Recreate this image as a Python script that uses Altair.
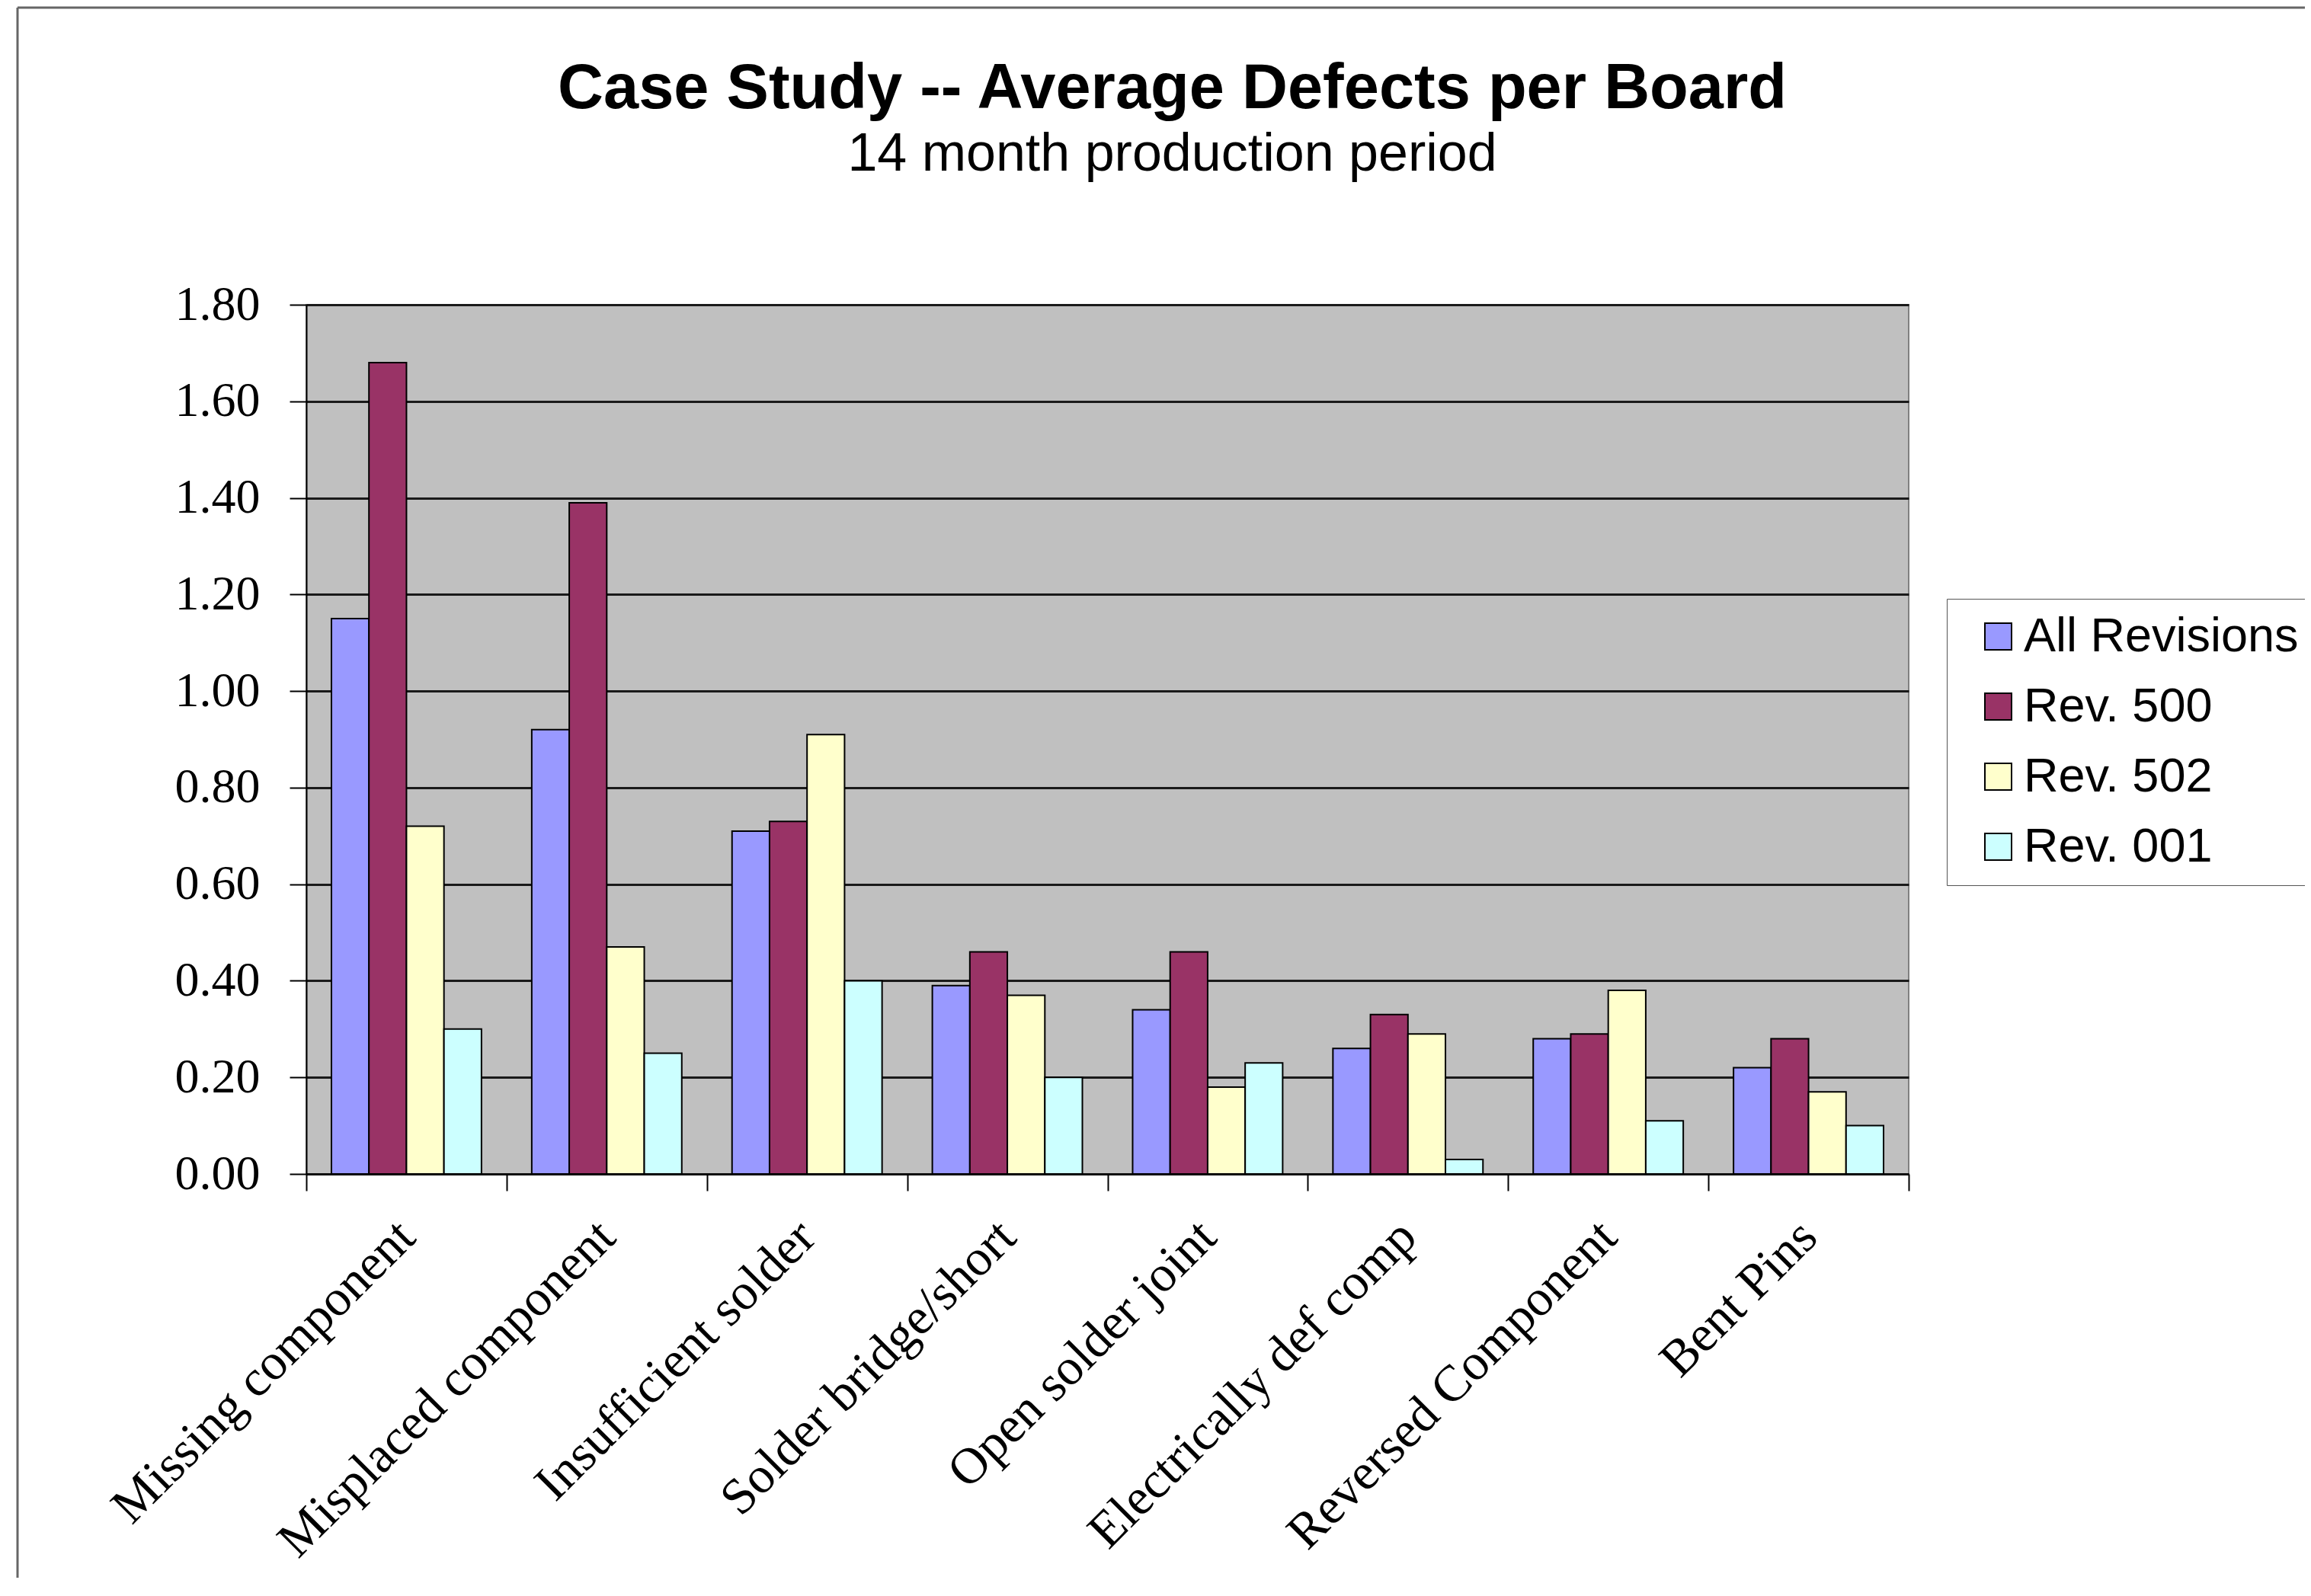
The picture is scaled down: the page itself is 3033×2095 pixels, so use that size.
import altair as alt
import pandas as pd

categories = ["Missing component", "Misplaced component", "Insufficient solder",
              "Solder bridge/short", "Open solder joint", "Electrically def comp",
              "Reversed Component", "Bent Pins"]
series = ["All Revisions", "Rev. 500", "Rev. 502", "Rev. 001"]
all_revisions = [1.15, 0.92, 0.71, 0.39, 0.34, 0.26, 0.28, 0.22]
rev_500 = [1.68, 1.39, 0.73, 0.46, 0.46, 0.33, 0.29, 0.28]
rev_502 = [0.72, 0.47, 0.91, 0.37, 0.18, 0.29, 0.38, 0.17]
rev_001 = [0.30, 0.25, 0.40, 0.20, 0.23, 0.03, 0.11, 0.10]
colors = ["#9999FF", "#993366", "#FFFFCC", "#CCFFFF"]
y_ticks = [0.0, 0.2, 0.4, 0.6, 0.8, 1.0, 1.2, 1.4, 1.6, 1.8]

rows = []
for name, vals in zip(series, [all_revisions, rev_500, rev_502, rev_001]):
    for c, v in zip(categories, vals):
        rows.append({"Defect": c, "Series": name, "Value": v})
df = pd.DataFrame(rows)

bars = alt.Chart(df).mark_bar(stroke="black", strokeWidth=2).encode(
    x=alt.X("Defect:N", sort=categories,
            scale=alt.Scale(paddingInner=0, paddingOuter=0),
            axis=alt.Axis(title=None, labelAngle=-45, labelAlign="right",
                          labelBaseline="middle", labelFont="Liberation Serif",
                          labelFontSize=67, labelColor="black", labelPadding=50,
                          tickBand="extent", tickSize=22, tickColor="black",
                          tickWidth=2, domainColor="black", domainWidth=2,
                          grid=False, labelLimit=0)),
    xOffset=alt.XOffset("Series:N", sort=series,
                        scale=alt.Scale(paddingInner=0, paddingOuter=0.67)),
    y=alt.Y("Value:Q", scale=alt.Scale(domain=[0, 1.8], nice=False),
            axis=alt.Axis(title=None, values=y_ticks, format=".2f",
                          labelFont="Liberation Serif", labelFontSize=64,
                          labelColor="black", labelPadding=39, tickSize=22,
                          tickColor="black", tickWidth=2, domainColor="black",
                          domainWidth=2, grid=True, gridColor="#1a1a1a",
                          gridWidth=3)),
    color=alt.Color("Series:N", sort=series,
                    scale=alt.Scale(domain=series, range=colors),
                    legend=alt.Legend(title=None, orient="none", legendX=2153,
                                      legendY=386, padding=18, symbolOffset=18,
                                      fillColor="white", strokeColor="#555555",
                                      symbolType="square", symbolSize=1225,
                                      symbolStrokeColor="black",
                                      symbolStrokeWidth=2, labelFont="Liberation Sans",
                                      labelFontSize=63, labelColor="black",
                                      labelOffset=2, rowPadding=28, labelLimit=0)),
)

border_left = alt.Chart(pd.DataFrame({"k": [0]})).mark_rule(
    color="#666666", strokeWidth=3).encode(
    x=alt.value(-379), y=alt.value(-390), y2=alt.value(1700))
border_top = alt.Chart(pd.DataFrame({"k": [0]})).mark_rule(
    color="#666666", strokeWidth=3).encode(
    x=alt.value(-379), x2=alt.value(2700), y=alt.value(-390))

chart = alt.layer(bars, border_left, border_top).properties(
    width=2103, height=1141,
    autosize=alt.AutoSizeParams(type="none"),
    padding={"left": 394, "top": 392, "right": 520, "bottom": 530},
    title=alt.TitleParams(
        text="Case Study -- Average Defects per Board",
        subtitle="14 month production period",
        font="Liberation Sans", fontSize=83, fontWeight="bold", color="black",
        subtitleFont="Liberation Sans", subtitleFontSize=70,
        subtitleColor="black", subtitlePadding=10, anchor="middle",
        dx=85, offset=-229),
).configure_view(fill="#C0C0C0", stroke="#808080", strokeWidth=2)

chart.save("out.html", embed_options={"renderer": "svg", "actions": False})
